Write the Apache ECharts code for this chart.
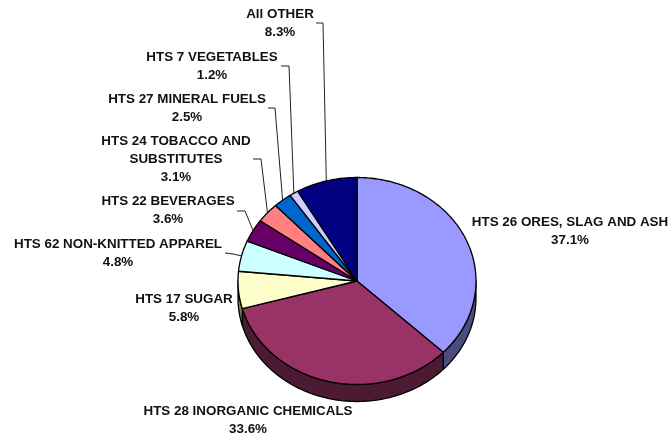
<!DOCTYPE html>
<html>
<head>
<meta charset="utf-8">
<style>html,body{margin:0;padding:0;background:#fff}#c{width:672px;height:441px}</style>
<script src="https://cdn.jsdelivr.net/npm/echarts@6/dist/echarts.min.js"></script>
</head>
<body>
<div id="c"></div>
<script>
const categories = ["HTS 26 ORES, SLAG AND ASH","HTS 28 INORGANIC CHEMICALS","HTS 17 SUGAR","HTS 62 NON-KNITTED APPAREL","HTS 22 BEVERAGES","HTS 24 TOBACCO AND\nSUBSTITUTES","HTS 27 MINERAL FUELS","HTS 7 VEGETABLES","All OTHER"];
const values = [37.1,33.6,5.8,4.8,3.6,3.1,2.5,1.2,8.3];
const colors = ["#9999FF","#993366","#FFFFCC","#CCFFFF","#660066","#FF8080","#0066CC","#CCCCFF","#000080"];
const sideColors = ["#4C4C80","#4D1A33","#80805F","#668080","#330033","#804040","#003366","#666680","#000040"];
const labelCenters = [[570,231.5],[248,420.5],[184,308.5],[118,253.5],[168,210.5],[176,159.5],[187,108],[212,66],[280,23.5]];
const leaderElbows = [null,null,null,[[225,253],[233,254]],[[237,211],[245,211]],[[253,159],[261,159]],[[268,108],[275,108]],[[281,66],[289,66]],[[316,23],[323,23]]];
const CX=357, CY=281, RX=119, RY=103.5, DEPTH=17;
const total = values.reduce((a,b)=>a+b,0);
const starts = []; values.reduce((acc,v,i)=>{starts[i]=acc;return acc+v;},0);
const pt=(deg,dy)=>{const t=deg*Math.PI/180;return [CX+RX*Math.sin(t),CY-RY*Math.cos(t)+(dy||0)];};
const arc=(a,b,dy)=>{const p=[];const n=Math.max(2,Math.ceil(Math.abs(b-a)));for(let i=0;i<=n;i++)p.push(pt(a+(b-a)*i/n,dy));return p;};
function renderItem(params,api){
  const i=params.dataIndex, v=api.value(0);
  const a0=starts[i]/total*360, a1=a0+v/total*360, mid=(a0+a1)/2;
  const children=[];
  const w0=Math.max(a0,90), w1=Math.min(a1,270);
  if(w1>w0){
    children.push({type:'polygon',shape:{points:arc(w0,w1,0).concat(arc(w1,w0,DEPTH))},
      style:{fill:sideColors[i],stroke:'#000',lineWidth:1.3,lineJoin:'round'}});
  }
  children.push({type:'polygon',shape:{points:[[CX,CY]].concat(arc(a0,a1,0))},
    style:{fill:colors[i],stroke:'#000',lineWidth:1.3,lineJoin:'round'}});
  if(leaderElbows[i]){
    children.push({type:'polyline',shape:{points:leaderElbows[i].concat([pt(mid,0)])},
      style:{fill:null,stroke:'#222',lineWidth:1}});
  }
  children.push({type:'text',x:labelCenters[i][0],y:labelCenters[i][1],
    style:{text:categories[i]+'\n'+v.toFixed(1)+'%',align:'center',verticalAlign:'middle',
      fontFamily:'"Liberation Sans",Arial,sans-serif',fontWeight:'bold',fontSize:13.4,lineHeight:18,fill:'#111'}});
  return {type:'group',children};
}
const chart=echarts.init(document.getElementById('c'),null,{renderer:'canvas'});
chart.setOption({
  animation:false,
  backgroundColor:'#fff',
  series:[{type:'custom',coordinateSystem:'none',renderItem,clip:false,silent:true,
    data:values.map((v,i)=>({name:categories[i],value:[v]}))}]
});
</script>
</body>
</html>
